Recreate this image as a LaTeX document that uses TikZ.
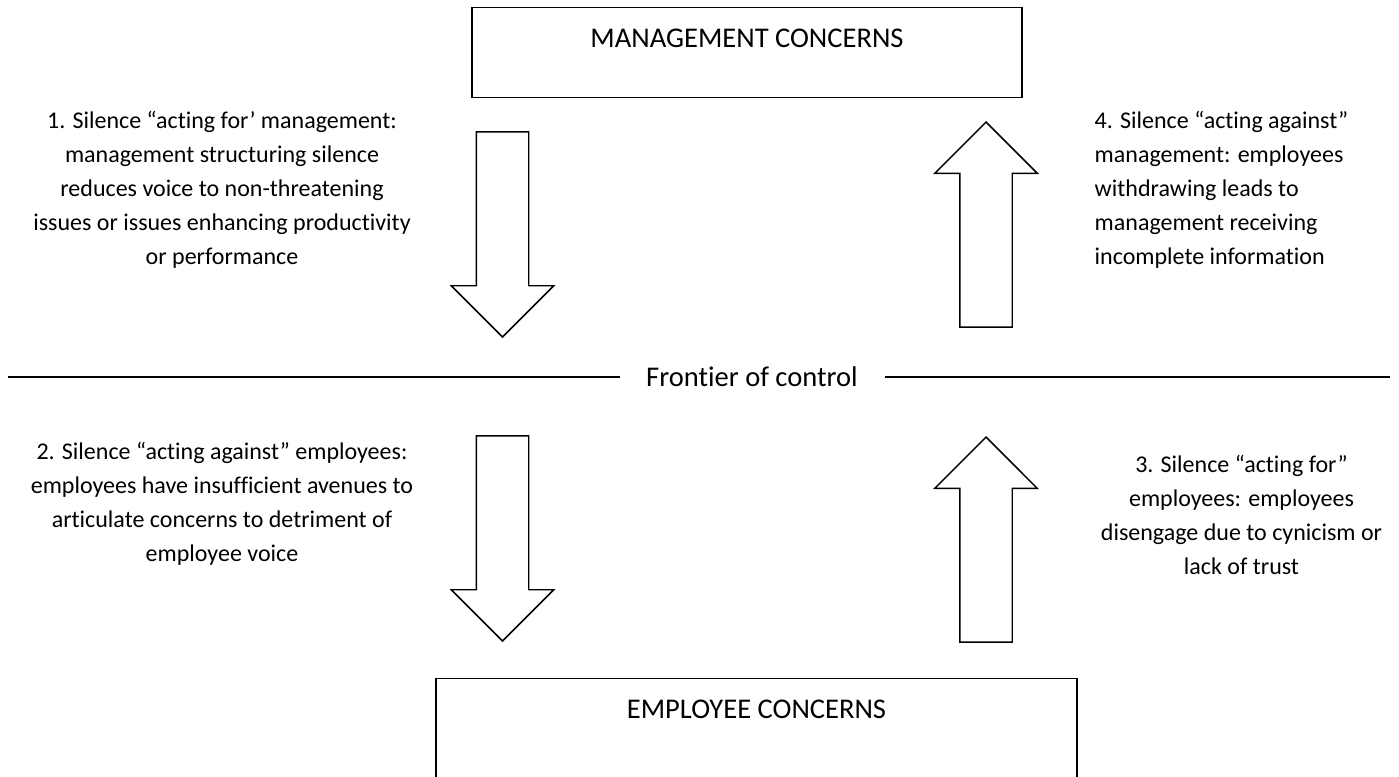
\documentclass[tikz,border=0pt]{standalone}
\usepackage{fontspec}
\setmainfont{Carlito}[Ligatures=NoCommon]
\usetikzlibrary{shapes.arrows,positioning}

\begin{document}
\begin{tikzpicture}[x=0.75pt,y=-0.75pt,line width=1.1pt,
    concern/.style={draw, anchor=north, minimum width=#1, inner sep=0pt,
      text height=30pt, font=\fontsize{21.4}{25}\selectfont},
    note/.style={align=center, inner sep=0pt, font=\fontsize{18}{25.5}\selectfont},
    bigarrow/.style={single arrow, draw, anchor=tip, inner sep=19.125pt,
      minimum height=153.75pt, minimum width=75.75pt,
      single arrow head extend=18.75pt, single arrow head indent=0pt,
      shape border rotate=#1}]
   \useasboundingbox (0,0) rectangle (1399,776);

   % the two levels
   \node[concern=412.5pt, text depth=37.5pt] (mgmt) at (747,7)   {MANAGEMENT CONCERNS};
   \node[concern=480.75pt, text depth=75pt]  (empl) at (756.5,678) {EMPLOYEE CONCERNS};

   % frontier of control
   \node[inner xsep=19.5pt, font=\fontsize{21.4}{25}\selectfont] (front) at (752,377) {Frontier of control};
   \coordinate (fl) at (8,377);
   \coordinate (fr) at (1390,377);
   \draw (fl) -- (front);
   \draw (front) -- (fr);

   % block arrows
   \node[bigarrow=270] (a1) at (502.5,338) {};
   \node[bigarrow=90]  (a4) at (986,121)   {};
   \node[bigarrow=270] (a2) at (502.5,642) {};
   \node[bigarrow=90]  (a3) at (986,436)   {};

   % the four kinds of silence
   \node[note] (s1) at (222,189.5) {1. Silence “acting for’ management:\\
     management structuring silence\\ reduces voice to non-threatening\\
     issues or issues enhancing productivity\\ or performance};
   \node[note, align=left, anchor=west] (s4) at (1094,189.5) { 4. Silence “acting against”\\
     management: employees\\ withdrawing leads to\\ management receiving\\
     incomplete information};
   \node[note] (s2) at (222,504) {2. Silence “acting against” employees:\\
     employees have insufficient avenues to\\ articulate concerns to detriment of\\
     employee voice};
   \node[note] (s3) at (1241.5,514.5) {3. Silence “acting for”\\ employees: employees\\
     disengage due to cynicism or\\ lack of trust};
\end{tikzpicture}
\end{document}
